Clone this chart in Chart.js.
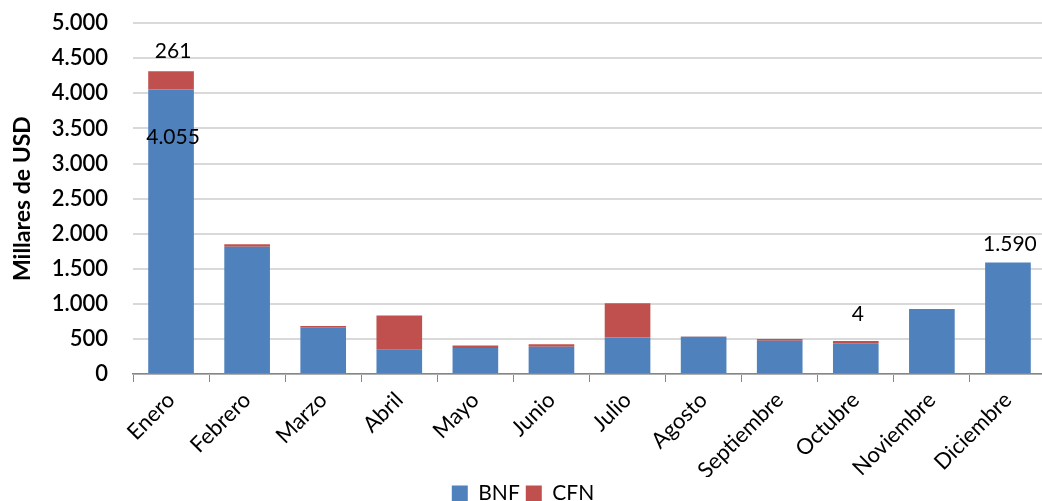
<!DOCTYPE html>
<html><head><meta charset="utf-8">
<script src="https://cdn.jsdelivr.net/npm/chart.js@4/dist/chart.umd.min.js"></script>
<style>
html,body{margin:0;padding:0;background:#fff;overflow:hidden;}
#wrap{width:1046px;height:529px;position:relative;top:-15px;}
</style></head>
<body><div id="wrap"><canvas id="c"></canvas></div>
<script>
const categories = ['Enero','Febrero','Marzo','Abril','Mayo','Junio','Julio','Agosto','Septiembre','Octubre','Noviembre','Diciembre'];
const bnfValues = [4055, 1815, 660, 345, 370, 390, 520, 530, 475, 440, 925, 1590];
const cfnValues = [261, 35, 25, 490, 35, 35, 490, 5, 25, 30, 0, 0];
const bnfLabels = ['4.055','','','','','','','','','','','1.590'];
const cfnLabels = ['261','','','','','','','','','4','',''];
const yTicks = [0,500,1000,1500,2000,2500,3000,3500,4000,4500,5000];

const fmt = v => v.toLocaleString('es-ES', {useGrouping:'always'}).replace(/,/g,'.');

const labelPlugin = {
  id:'barLabels',
  afterDatasetsDraw(chart){
    const ctx = chart.ctx;
    ctx.save();
    ctx.font = '21px Lato';
    ctx.fillStyle = '#000';
    ctx.textAlign = 'center';
    ctx.textBaseline = 'middle';
    const sets = [bnfLabels, cfnLabels];
    sets.forEach((arr, di) => {
      const meta = chart.getDatasetMeta(di);
      arr.forEach((t, i) => {
        if (!t) return;
        const el = meta.data[i];
        let off;
        if (di === 0 && i === 0) off = 48;
        else if (di === 0) off = -18;
        else if (i === 0) off = -20;
        else off = -27;
        ctx.fillText(t, el.x + 2, el.y + off);
      });
    });
    ctx.restore();
  }
};

new Chart(document.getElementById('c'), {
  type:'bar',
  data:{
    labels:categories,
    datasets:[
      {label:'BNF', data:bnfValues, backgroundColor:'#4F81BD', categoryPercentage:1, barPercentage:0.6},
      {label:'CFN', data:cfnValues, backgroundColor:'#C0504D', categoryPercentage:1, barPercentage:0.6}
    ]
  },
  options:{
    responsive:true, maintainAspectRatio:false, animation:false,
    layout:{padding:{top:1, right:0, left:0, bottom:0}},
    plugins:{
      tooltip:{enabled:false},
      legend:{position:'bottom', labels:{font:{family:'Lato', size:21}, color:'#000', boxWidth:16, boxHeight:16, padding:6}}
    },
    scales:{
      x:{stacked:true,
        grid:{display:true, drawOnChartArea:false, drawTicks:true, tickLength:8, color:'#868686', offset:true},
        border:{color:'#868686', width:1.5},
        ticks:{font:{family:'Lato', size:22}, color:'#000', maxRotation:45, minRotation:45, padding:5},
        afterFit(s){ s.height = 103; }
      },
      y:{stacked:true, min:0, max:5000,
        afterBuildTicks(s){ s.ticks = yTicks.map(v=>({value:v})); },
        grid:{color:'#d9d9d9', lineWidth:2, drawTicks:false},
        border:{display:false},
        ticks:{font:{family:'Lato', size:22, weight:'600'}, color:'#000', padding:25, callback:v=>fmt(v)},
        title:{display:true, text:'Millares de USD', font:{family:'Lato', size:23, weight:'bold'}, color:'#000', padding:{top:9, bottom:0}},
        afterFit(s){ s.width = 133; }
      }
    }
  },
  plugins:[labelPlugin]
});
</script></body></html>
